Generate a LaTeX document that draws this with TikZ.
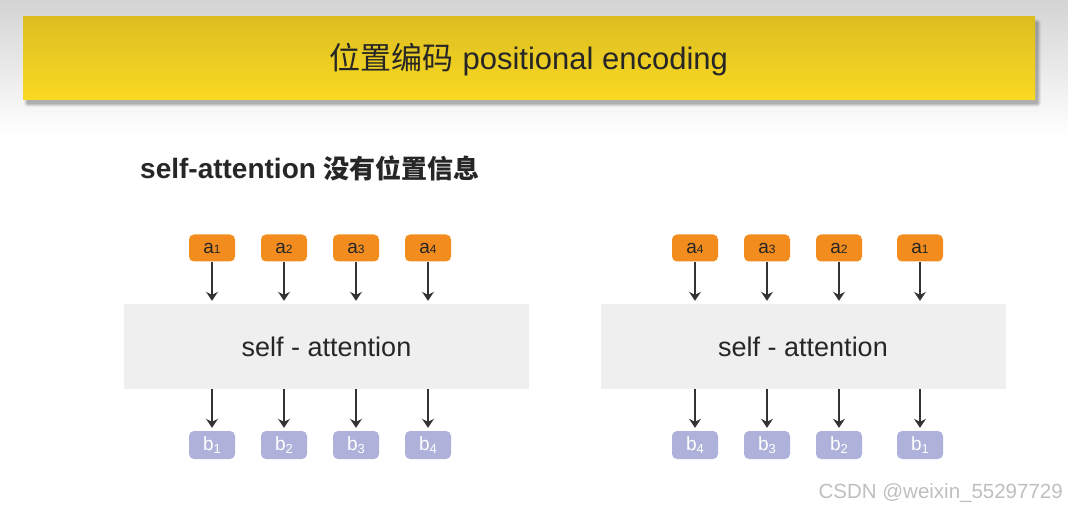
\documentclass[tikz,border=0pt]{standalone}
\usepackage{fontspec}
\setmainfont{Liberation Sans}
\newfontfamily\cjk{Noto Sans CJK SC}
\usetikzlibrary{arrows.meta,shadows}
\definecolor{orangeA}{HTML}{F28C1E}
\definecolor{lavB}{HTML}{AEB2DA}
\definecolor{boxgray}{HTML}{EFEFEF}
\definecolor{banTop}{HTML}{DCBE22}
\definecolor{banBot}{HTML}{FAD921}
\tikzset{
  anode/.style={fill=orangeA, rounded corners=5pt, minimum width=46pt, minimum height=27pt, inner sep=0pt, text=black!85, font=\fontsize{19}{19}\selectfont},
  bnode/.style={fill=lavB, rounded corners=5pt, minimum width=46pt, minimum height=28pt, inner sep=0pt, text=white, font=\fontsize{19}{19}\selectfont},
  attbox/.style={fill=boxgray, minimum width=405pt, minimum height=85pt, inner sep=0pt, font=\fontsize{27}{27}\selectfont, text=black!85},
  arr/.style={-{Stealth[length=9pt,width=12pt,inset=3pt]}, line width=1.4pt, draw=black!80, shorten >=3pt},
}
\newcommand{\asub}[1]{\fontsize{12}{12}\selectfont #1}
\newcommand{\bsub}[1]{\raisebox{-2.5pt}{\fontsize{13}{13}\selectfont #1}}
\begin{document}
\begin{tikzpicture}[x=1pt,y=-1pt]
\useasboundingbox (0,0) rectangle (1068,510);
\fill[white] (0,0) rectangle (1068,510);
\shade[top color=black!17, bottom color=white] (0,0) rectangle (1068,135);
% banner shadow (soft)
\foreach \k/\op in {4/0.05,3/0.07,2/0.09,1/0.10}{
  \fill[black, opacity=\op, rounded corners=\k pt] (25-\k+3,20-\k+3) rectangle (1035+\k+2,100+\k+3);
}
\node[top color=banTop, bottom color=banBot, minimum width=1012pt, minimum height=83pt, inner sep=0pt] (banner) at (529,58.5) {};
\node[font=\fontsize{31}{31}\selectfont, text=black!85] (title) at (529,60) {{\cjk 位置编码} positional encoding};
% subtitle
\node[anchor=west, font=\bfseries\fontsize{28}{28}\selectfont, text=black!85, inner sep=0pt] (sub) at (140,168) {self-attention {\cjk\bfseries\fontsize{26}{26}\selectfont 没有位置信息}};
% left attention
\node[attbox] (L) at (326.5,346.5) {self - attention};
\node[anode] (la1) at (212,248) {a\asub{1}};
\node[anode] (la2) at (284,248) {a\asub{2}};
\node[anode] (la3) at (356,248) {a\asub{3}};
\node[anode] (la4) at (428,248) {a\asub{4}};
\node[bnode] (lb1) at (212,445) {b\bsub{1}};
\node[bnode] (lb2) at (284,445) {b\bsub{2}};
\node[bnode] (lb3) at (356,445) {b\bsub{3}};
\node[bnode] (lb4) at (428,445) {b\bsub{4}};
\foreach \i in {1,2,3,4}{
  \draw[arr] (la\i.south) -- (la\i.south |- L.north) ;
  \draw[arr] (lb\i.north |- L.south) -- (lb\i.north);
}
% right attention
\node[attbox] (R) at (803,346.5) {self - attention};
\node[anode] (ra4) at (695,248) {a\asub{4}};
\node[anode] (ra3) at (767,248) {a\asub{3}};
\node[anode] (ra2) at (839,248) {a\asub{2}};
\node[anode] (ra1) at (920,248) {a\asub{1}};
\node[bnode] (rb4) at (695,445) {b\bsub{4}};
\node[bnode] (rb3) at (767,445) {b\bsub{3}};
\node[bnode] (rb2) at (839,445) {b\bsub{2}};
\node[bnode] (rb1) at (920,445) {b\bsub{1}};
\foreach \i in {1,2,3,4}{
  \draw[arr] (ra\i.south) -- (ra\i.south |- R.north) ;
  \draw[arr] (rb\i.north |- R.south) -- (rb\i.north);
}
% watermark
\node[anchor=east, font=\fontsize{20.5}{20.5}\selectfont, text=black!25, inner sep=0pt] (wm) at (1063,493) {CSDN @weixin\_55297729};
\end{tikzpicture}
\end{document}
